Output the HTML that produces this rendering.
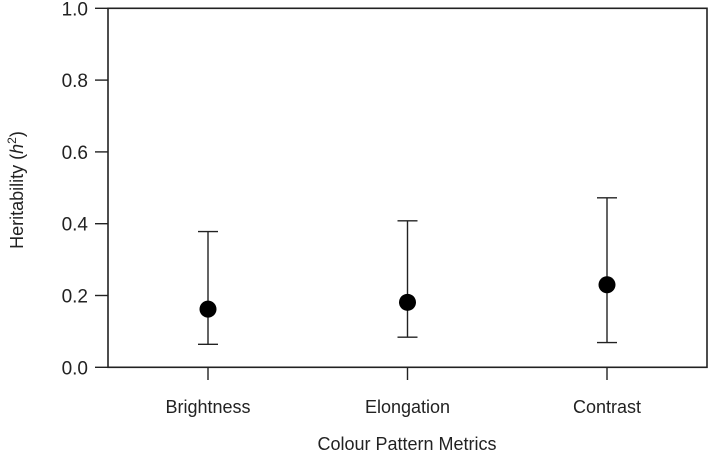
<!DOCTYPE html>
<html><head><meta charset="utf-8"><style>
body{margin:0;background:#fff;}
svg{display:block;font-family:"Liberation Sans",Arial,sans-serif;}
</style></head><body>
<svg id="chart" width="709" height="453">
<rect x="108" y="8.3" width="599" height="359" fill="none" stroke="#222" stroke-width="1.6"/>
<g id="yaxis"></g>
<g id="xaxis"></g>
<g id="marks"></g>
<text x="407" y="450" text-anchor="middle" font-size="18" fill="#222">Colour Pattern Metrics</text>
<text transform="translate(23,190) rotate(-90)" text-anchor="middle" font-size="18" fill="#222">Heritability (<tspan font-style="italic">h</tspan><tspan dy="-7" font-size="12">2</tspan><tspan dy="7">)</tspan></text>
</svg>
<script>
const categories=["Brightness","Elongation","Contrast"];
const estimates=[0.162,0.181,0.23];
const lowerCI=[0.064,0.084,0.069];
const upperCI=[0.378,0.408,0.472];
const yTicks=[0,0.2,0.4,0.6,0.8,1.0];
const yTickLabels=["0.0","0.2","0.4","0.6","0.8","1.0"];
const NS="http://www.w3.org/2000/svg";
const X0=108,Y0=367.3,H=359;
function y(v){return Y0-v*H;}
function x(i){return 208+i*199.5;}
function mk(t,a,p){const e=document.createElementNS(NS,t);for(const k in a)e.setAttribute(k,a[k]);p.appendChild(e);return e;}
const ya=document.getElementById('yaxis'),xa=document.getElementById('xaxis'),m=document.getElementById('marks');
yTicks.forEach((v,i)=>{
 const l=mk('line',{x1:95,x2:X0,y1:y(v),y2:y(v),stroke:'#222','stroke-width':1.4},ya);
 
 
 const t=mk('text',{x:88,y:y(v)+7,'text-anchor':'end','font-size':19,fill:'#222'},ya);
 t.textContent=yTickLabels[i];
 
 
});
categories.forEach((c,i)=>{
 const cx=x(i);
 const tk=mk('line',{x1:cx,x2:cx,y1:Y0,y2:380,stroke:'#222','stroke-width':1.4},xa);
 
 
 const t=mk('text',{x:cx,y:413,'text-anchor':'middle','font-size':18,fill:'#222'},xa);
 t.textContent=c;
 
 
 const g=mk('g',{},m);
 
 
 mk('line',{x1:cx,x2:cx,y1:y(lowerCI[i]),y2:y(upperCI[i]),stroke:'#222','stroke-width':1.4},g);
 mk('line',{x1:cx-10,x2:cx+10,y1:y(lowerCI[i]),y2:y(lowerCI[i]),stroke:'#222','stroke-width':1.4},g);
 mk('line',{x1:cx-10,x2:cx+10,y1:y(upperCI[i]),y2:y(upperCI[i]),stroke:'#222','stroke-width':1.4},g);
 const p=mk('circle',{cx:cx,cy:y(estimates[i]),r:8.5,fill:'#000'},m);
 
 
});
</script>
</body></html>
